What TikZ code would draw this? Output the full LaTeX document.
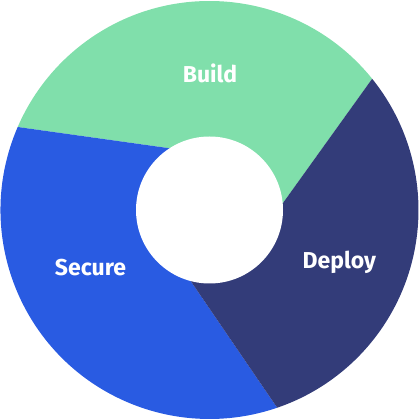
\documentclass[tikz,border=0pt]{standalone}
\usepackage{fontspec}
\setmainfont{Fira Sans}
\definecolor{buildc}{RGB}{128,223,171}
\definecolor{deployc}{RGB}{51,60,121}
\definecolor{securec}{RGB}{41,91,226}
\tikzset{
  lbl/.style={text=white, font=\fontsize{23}{26}\selectfont\bfseries, anchor=base, inner sep=0pt},
}
\begin{document}
\begin{tikzpicture}
\useasboundingbox (0pt,0pt) rectangle (419pt,420pt);
\begin{scope}[shift={(209.5pt,210pt)}]
  % Build
  \fill[buildc] (0,0) -- (-35.5:55.6pt) -- (38.9:209pt)
    arc[start angle=38.9, end angle=156.6, radius=209pt] -- (82.1:55.6pt) -- cycle;
  % Secure
  \fill[securec] (0,0) -- (82.1:55.6pt) -- (156.6:209pt)
    arc[start angle=156.6, end angle=288.9, radius=209pt] -- (214.2:55.6pt) -- cycle;
  % Deploy
  \fill[deployc] (0,0) -- (214.2:55.6pt) -- (288.9:209pt)
    arc[start angle=288.9, end angle=398.9, radius=209pt] -- (324.5:55.6pt) -- cycle;
  % hole
  \fill[white] (0,0) circle[radius=73.5pt];
\end{scope}
\node[lbl] (build) at (210pt,337pt) {Build};
\node[lbl] (secure) at (90.5pt,144pt) {Secure};
\node[lbl] (deploy) at (339.3pt,151pt) {Deploy};
\end{tikzpicture}
\end{document}
